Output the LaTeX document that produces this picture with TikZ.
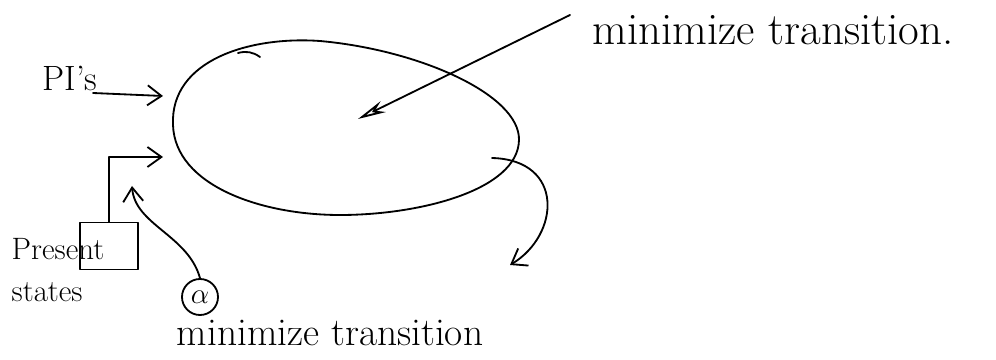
\documentclass[tikz,border=0pt]{standalone}
\usetikzlibrary{arrows.meta}
\definecolor{inkBlack}{HTML}{000000}

\tikzset{
  pen/.style={draw=inkBlack,line width=1.3pt,line cap=round,line join=round},
  barb/.style={pen,-{Straight Barb[length=3.5mm,width=5mm]}},
  scrawl/.style={text=inkBlack,inner sep=0pt},
}

\begin{document}
\begin{tikzpicture}[x=0.025cm,y=-0.025cm]
  \useasboundingbox (0,0) rectangle (996,360);
  \draw[pen] (173,125) .. controls (170,60) and (250,36) .. (320,41)
    .. controls (420,50) and (520,95) .. (519,140)
    .. controls (518,190) and (420,215) .. (340,215)
    .. controls (260,215) and (175,185) .. (173,125) -- cycle;
  \draw[pen] (238,53) to[bend left=25] (260,57);
  \coordinate (blobMid) at (358,119);
  \coordinate (blobRight) at (492,158);

  \node[scrawl,font=\fontsize{32}{36}\selectfont] (topNote) at (773,30) {minimize transition.};
  \node[scrawl,font=\fontsize{28}{32}\selectfont] (bottomNote) at (330,333) {minimize transition};
  \node[scrawl,font=\fontsize{25}{28}\selectfont] (pis) at (70,78) {PI's};
  \node[scrawl,font=\fontsize{22}{30}\selectfont,align=left] (present) at (58,270) {Present\\states};
  \node[pen,minimum width=1.45cm,minimum height=1.175cm,inner sep=0pt] (psBox) at (109,246) {};
  \node[pen,circle,minimum size=0.9cm,inner sep=0pt,font=\fontsize{20}{22}\selectfont] (alpha) at (200,297) {$\alpha$};

  \coordinate (farTail) at (570,15);
  \coordinate (pisTail) at (93,93);
  \coordinate (pisTip) at (163,96);
  \coordinate (psTip) at (163,157);
  \coordinate (alphaTip) at (132,186);
  \coordinate (rightTip) at (510,265);

  \draw[pen,-{Stealth[open,length=7mm,width=3mm]}] (farTail) -- (blobMid);
  \draw[barb] (pisTail) -- (pisTip);
  \draw[barb] (psBox.north) |- (psTip);
  \draw[barb] (alpha.north) .. controls (188,235) and (135,225) .. (alphaTip);
  \draw[barb] (blobRight) .. controls (565,160) and (560,235) .. (rightTip);
\end{tikzpicture}
\end{document}
